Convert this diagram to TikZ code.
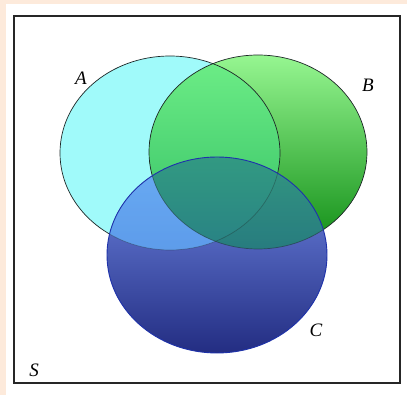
\documentclass[tikz,border=0pt]{standalone}
\usepackage{fontspec}
\setmainfont{Liberation Serif}
\definecolor{peach}{RGB}{253,234,219}
\definecolor{cyanA}{RGB}{160,250,250}
\definecolor{Btop}{RGB}{150,246,145}
\definecolor{Bmid}{RGB}{85,212,85}
\definecolor{Bbot}{RGB}{15,140,20}
\definecolor{ABtop}{RGB}{110,238,135}
\definecolor{ABbot}{RGB}{50,190,100}
\definecolor{Ctop}{RGB}{115,140,232}
\definecolor{Cbot}{RGB}{35,45,130}
\definecolor{ACtop}{RGB}{105,175,245}
\definecolor{ACbot}{RGB}{85,150,235}
\definecolor{BCtop}{RGB}{45,152,118}
\definecolor{BCbot}{RGB}{25,100,125}
\definecolor{Cline}{RGB}{30,50,170}
\definecolor{outl}{RGB}{30,40,40}
\begin{document}
\begin{tikzpicture}[x=1pt,y=-1pt,
  lab/.style={font=\fontsize{19}{21}\selectfont\itshape, inner sep=0pt},
  frame/.style={draw=black!85, line width=1.1pt},
  setline/.style={draw=outl, line width=0.7pt},
  cline/.style={draw=Cline, line width=0.9pt}]
\useasboundingbox (0,0) rectangle (407,395);
\fill[peach] (0,0) rectangle (407,395);
\fill[white] (6,4) rectangle (407,395);
\draw[frame] (14,16) rectangle (400,383);
% A
\fill[cyanA] (170,153) ellipse [x radius=110, y radius=97];
% B
\shade[top color=Btop, middle color=Bmid, bottom color=Bbot] (258,152) ellipse [x radius=109, y radius=97];
\begin{scope}
  \clip (170,153) ellipse [x radius=110, y radius=97];
  \shade[top color=ABtop, bottom color=ABbot] (258,152) ellipse [x radius=109, y radius=97];
\end{scope}
\draw[setline] (170,153) ellipse [x radius=110, y radius=97];
\draw[setline] (258,152) ellipse [x radius=109, y radius=97];
% C
\shade[top color=Ctop, bottom color=Cbot] (217,255) ellipse [x radius=110, y radius=98];
\begin{scope}
  \clip (170,153) ellipse [x radius=110, y radius=97];
  \shade[top color=ACtop, bottom color=ACbot, fill opacity=0.9] (217,255) ellipse [x radius=110, y radius=98];
\end{scope}
\begin{scope}
  \clip (258,152) ellipse [x radius=109, y radius=97];
  \shade[top color=BCtop, bottom color=BCbot, fill opacity=0.9] (217,255) ellipse [x radius=110, y radius=98];
\end{scope}
\begin{scope}
  \clip (217,255) ellipse [x radius=110, y radius=98];
  \draw[setline, draw opacity=0.35] (170,153) ellipse [x radius=110, y radius=97];
  \draw[setline, draw opacity=0.5] (258,152) ellipse [x radius=109, y radius=97];
\end{scope}
\draw[cline] (217,255) ellipse [x radius=110, y radius=98];
% labels
\node[lab] (la) at (81,78) {A};
\node[lab] (lb) at (368,85) {B};
\node[lab] (lc) at (316,330) {C};
\node[lab] (ls) at (34,370) {S};
\end{tikzpicture}
\end{document}
